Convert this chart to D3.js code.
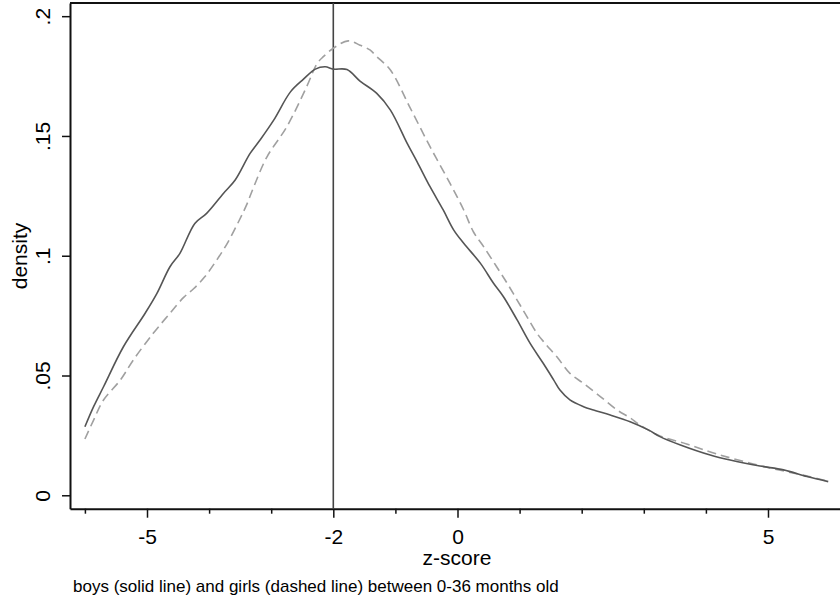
<!DOCTYPE html>
<html>
<head>
<meta charset="utf-8">
<script src="https://cdn.jsdelivr.net/npm/d3@7"></script>
<style>
  body { margin: 0; background: #fff; }
  svg { display: block; font-family: "Liberation Sans", Arial, sans-serif; }
</style>
</head>
<body>
<div id="chart"></div>
<script>
// boys (solid line)
var boysZ = [-6.0, -5.86, -5.7, -5.38, -5.03, -4.84, -4.63, -4.47, -4.23, -4.04, -3.77, -3.58, -3.34, -3.18, -2.96, -2.69, -2.48, -2.29, -2.13, -2.0, -1.78, -1.57, -1.3, -1.08, -0.81, -0.65, -0.44, -0.23, -0.06, 0.1, 0.37, 0.58, 0.74, 0.96, 1.17, 1.38, 1.55, 1.65, 1.81, 2.03, 2.19, 2.46, 2.78, 3.08, 3.26, 3.59, 4.07, 4.39, 4.87, 5.25, 5.63, 5.97];
var boysDensity = [0.0286, 0.037, 0.0453, 0.062, 0.076, 0.0843, 0.0954, 0.101, 0.1135, 0.1177, 0.126, 0.1316, 0.1427, 0.1483, 0.1566, 0.1684, 0.1737, 0.1779, 0.1789, 0.1779, 0.1777, 0.1729, 0.1678, 0.1608, 0.1469, 0.1392, 0.1287, 0.1191, 0.1107, 0.1052, 0.0968, 0.0885, 0.0829, 0.0732, 0.0634, 0.0551, 0.0481, 0.0439, 0.0398, 0.037, 0.0356, 0.0335, 0.0307, 0.0272, 0.0245, 0.021, 0.0168, 0.0147, 0.0122, 0.0106, 0.0078, 0.0057];

// girls (dashed line)
var girlsZ = [-6.0, -5.86, -5.7, -5.43, -5.22, -4.9, -4.63, -4.41, -4.25, -4.07, -3.87, -3.7, -3.52, -3.4, -3.28, -3.07, -2.75, -2.43, -2.26, -2.16, -2.0, -1.76, -1.57, -1.41, -1.3, -1.08, -0.76, -0.44, -0.12, 0.1, 0.26, 0.42, 0.63, 0.8, 0.96, 1.12, 1.28, 1.41, 1.6, 1.81, 2.03, 2.3, 2.57, 2.78, 2.94, 3.26, 3.69, 4.18, 4.87, 5.63, 5.97];
var girlsDensity = [0.0235, 0.0314, 0.0398, 0.0481, 0.0565, 0.0676, 0.076, 0.0826, 0.0862, 0.0912, 0.0985, 0.1055, 0.1145, 0.121, 0.1288, 0.1412, 0.1538, 0.1705, 0.1803, 0.1831, 0.1866, 0.1897, 0.1879, 0.1859, 0.1831, 0.1775, 0.1616, 0.1454, 0.1302, 0.1191, 0.1098, 0.1038, 0.0954, 0.0885, 0.0815, 0.0745, 0.0676, 0.0634, 0.0578, 0.0509, 0.0467, 0.0412, 0.0356, 0.0323, 0.0293, 0.0248, 0.0214, 0.0172, 0.0124, 0.008, 0.0058];

var xMajorTicks = [-5, -2, 0, 5];
var xMinorTicks = [-6, -4, -3, -1, 1, 2, 3, 4];
var yTicks = [0, 0.05, 0.1, 0.15, 0.2];
var yTickLabels = ["0", ".05", ".1", ".15", ".2"];
var cutoff = -2;

var svgWidth = 840;
var svgHeight = 603;

var svg = d3.select("#chart")
  .append("svg")
  .attr("width", svgWidth)
  .attr("height", svgHeight);

var x = d3.scaleLinear()
  .domain([-6.24, 6.24])
  .range([70, 845]);

var y = d3.scaleLinear()
  .domain([-0.0056, 0.2055])
  .range([508.7, 3]);

// frame top line
svg.append("line")
  .attr("x1", 70).attr("x2", svgWidth)
  .attr("y1", 3).attr("y2", 3)
  .attr("stroke", "#111").attr("stroke-width", 2);

// y axis
var yAxis = svg.append("g")
  .attr("transform", "translate(70,0)")
  .call(d3.axisLeft(y)
    .tickValues(yTicks)
    .tickSize(8)
    .tickSizeOuter(0)
    .tickFormat(function(d, i) { return yTickLabels[i]; }));

yAxis.select(".domain").attr("stroke", "#111").attr("stroke-width", 2);
yAxis.selectAll(".tick line").attr("stroke", "#111").attr("stroke-width", 1.5);
yAxis.selectAll(".tick text")
  .attr("x", null)
  .attr("dy", null)
  .attr("transform", "translate(-20,0) rotate(-90)")
  .attr("text-anchor", "middle")
  .attr("fill", "#000")
  .style("font-size", "21px")
  .style("font-family", "Liberation Sans, Arial, sans-serif");

// x axis, major ticks
var xAxis = svg.append("g")
  .attr("transform", "translate(0,508.7)")
  .call(d3.axisBottom(x)
    .tickValues(xMajorTicks)
    .tickSize(9)
    .tickSizeOuter(0)
    .tickFormat(d3.format("d")));

xAxis.select(".domain").attr("stroke", "#111").attr("stroke-width", 2);
xAxis.selectAll(".tick line").attr("stroke", "#111").attr("stroke-width", 1.5);
xAxis.selectAll(".tick text")
  .attr("y", 35.5)
  .attr("dy", null)
  .attr("fill", "#000")
  .style("font-size", "21px")
  .style("font-family", "Liberation Sans, Arial, sans-serif")
  .text(function(d) { return d < 0 ? "-" + Math.abs(d) : d; });

// minor ticks
var xMinor = svg.append("g")
  .attr("transform", "translate(0,508.7)")
  .call(d3.axisBottom(x)
    .tickValues(xMinorTicks)
    .tickSize(5)
    .tickSizeOuter(0)
    .tickFormat(""));
xMinor.select(".domain").remove();
xMinor.selectAll(".tick line").attr("stroke", "#111").attr("stroke-width", 1.5);

// vertical reference line
svg.append("line")
  .attr("x1", x(cutoff)).attr("x2", x(cutoff))
  .attr("y1", 3).attr("y2", 508.7)
  .attr("stroke", "#444")
  .attr("stroke-width", 1.6);

var line = d3.line()
  .x(function(d) { return x(d[0]); })
  .y(function(d) { return y(d[1]); })
  .curve(d3.curveCatmullRom);

var girls = d3.zip(girlsZ, girlsDensity);
var boys = d3.zip(boysZ, boysDensity);

svg.append("path")
  .datum(girls)
  .attr("d", line)
  .attr("fill", "none")
  .attr("stroke", "#a0a0a0")
  .attr("stroke-width", 1.6)
  .attr("stroke-dasharray", "9,5");

svg.append("path")
  .datum(boys)
  .attr("d", line)
  .attr("fill", "none")
  .attr("stroke", "#555")
  .attr("stroke-width", 1.6);

// titles
svg.append("text")
  .attr("transform", "translate(27,256) rotate(-90)")
  .attr("text-anchor", "middle")
  .style("font-size", "21px")
  .text("density");

svg.append("text")
  .attr("x", 457)
  .attr("y", 565)
  .attr("text-anchor", "middle")
  .style("font-size", "21px")
  .text("z-score");

svg.append("text")
  .attr("x", 73)
  .attr("y", 592)
  .style("font-size", "17px")
  .text("boys (solid line) and girls (dashed line) between 0-36 months old");
</script>
</body>
</html>
